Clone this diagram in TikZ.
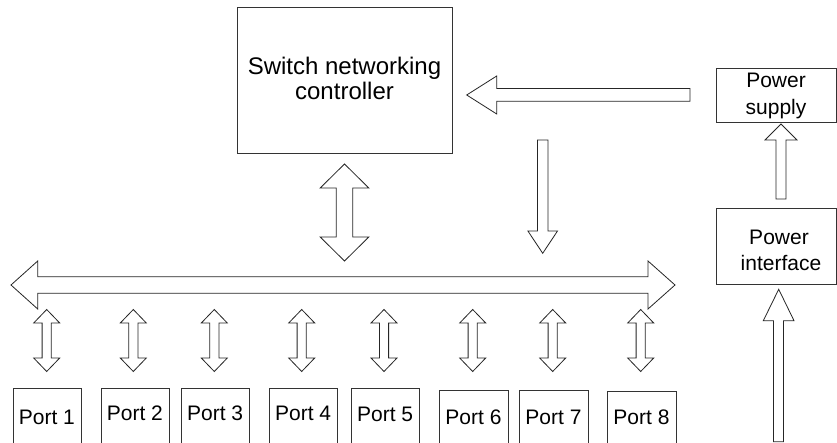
\documentclass[tikz,border=0pt]{standalone}
\usepackage{fontspec}
\setmainfont{Liberation Sans}
\usetikzlibrary{positioning,calc}
\newcommand\vdbl[6]{% cx, ytop, ybot, head half, shaft half, head length
  \draw[arr] (#1,#2) -- ({#1+#4},{#2+#6}) -- ({#1+#5},{#2+#6}) -- ({#1+#5},{#3-#6}) -- ({#1+#4},{#3-#6}) -- (#1,#3)
    -- ({#1-#4},{#3-#6}) -- ({#1-#5},{#3-#6}) -- ({#1-#5},{#2+#6}) -- ({#1-#4},{#2+#6}) -- cycle;}
\tikzset{
  arr/.style={draw=black!85, line width=0.8pt, line join=miter, fill=white},
  box/.style={draw=black!80, line width=0.8pt, fill=white, inner sep=0pt, anchor=north west},
  lbl/.style={inner sep=0pt, anchor=base, font=\fontsize{21}{24}\selectfont},
  biglbl/.style={inner sep=0pt, anchor=base, font=\fontsize{24}{26}\selectfont},
}
\begin{document}
\begin{tikzpicture}[x=1pt, y=-1pt]
\useasboundingbox (0,0) rectangle (837,443);
\clip (0,0) rectangle (837,443);
\fill[white] (0,0) rectangle (837,443);

% controller
\node[box, minimum width=215pt, minimum height=146pt] (ctrl) at (237,7) {};
\node[biglbl] (ctrlA) at (344.5,75) {Switch networking};
\node[biglbl] (ctrlB) at (344.5,100) {controller};

% power supply
\node[box, minimum width=120.5pt, minimum height=54pt] (psu) at (715.7,67.6) {};
\node[lbl] (psuA) at (776,87.5) {Power};
\node[lbl] (psuB) at (776,115) {supply};

% power interface
\node[box, minimum width=120.5pt, minimum height=76pt] (pif) at (715.7,208.4) {};
\node[lbl] (pifA) at (779,245) {Power};
\node[lbl] (pifB) at (781,271) {interface};

% ports
\foreach \i/\l/\t/\b in {1/12.7/387.7/424, 2/100.7/388.3/420, 3/181/388.3/420, 4/269/388.3/420,
                         5/351/388.3/421, 6/439.3/390/424, 7/519.3/390/424, 8/607.3/390.7/424}{
  \node[box, minimum width=68.3pt, minimum height=80pt] (port\i) at (\l,\t) {};
  \node[lbl] (portlbl\i) at ({\l+34.15},\b) {Port \i};
}

% arrow from power supply to controller (pointing left)
\draw[arr] (466.7,95) -- (496.7,76) -- (496.7,88.5) -- (690,88.5) -- (690,101.3) -- (496.7,101.3) -- (496.7,114) -- cycle;

% down arrow to bus
\draw[arr] (542.7,253.3) -- (557.5,231) -- (548,231) -- (548,140) -- (537.4,140) -- (537.4,231) -- (527.9,231) -- cycle;

% controller <-> bus
\vdbl{344.5}{164}{261}{24.3}{8.3}{24}

% bus (horizontal double arrow)
\draw[arr] (11,285) -- (37.7,261) -- (37.7,276.7) -- (648,276.7) -- (648,261) -- (675,285) -- (648,309)
  -- (648,293.3) -- (37.7,293.3) -- (37.7,309) -- cycle;

% bus <-> ports
\foreach \cx in {46.7,133.3,214.3,301.7,384,472.7,552.7,640.7}{
  \vdbl{\cx}{309.5}{371.5}{13}{4.6}{13.5}
}

% power interface -> power supply
\draw[arr] (781,124) -- (797,140) -- (786,140) -- (786,199) -- (776,199) -- (776,140) -- (765,140) -- cycle;

% input -> power interface
\draw[arr] (778.7,289.3) -- (794,320.7) -- (783.5,320.7) -- (783.5,441.7) -- (773.5,441.7) -- (773.5,320.7) -- (763.3,320.7) -- cycle;
\end{tikzpicture}
\end{document}
